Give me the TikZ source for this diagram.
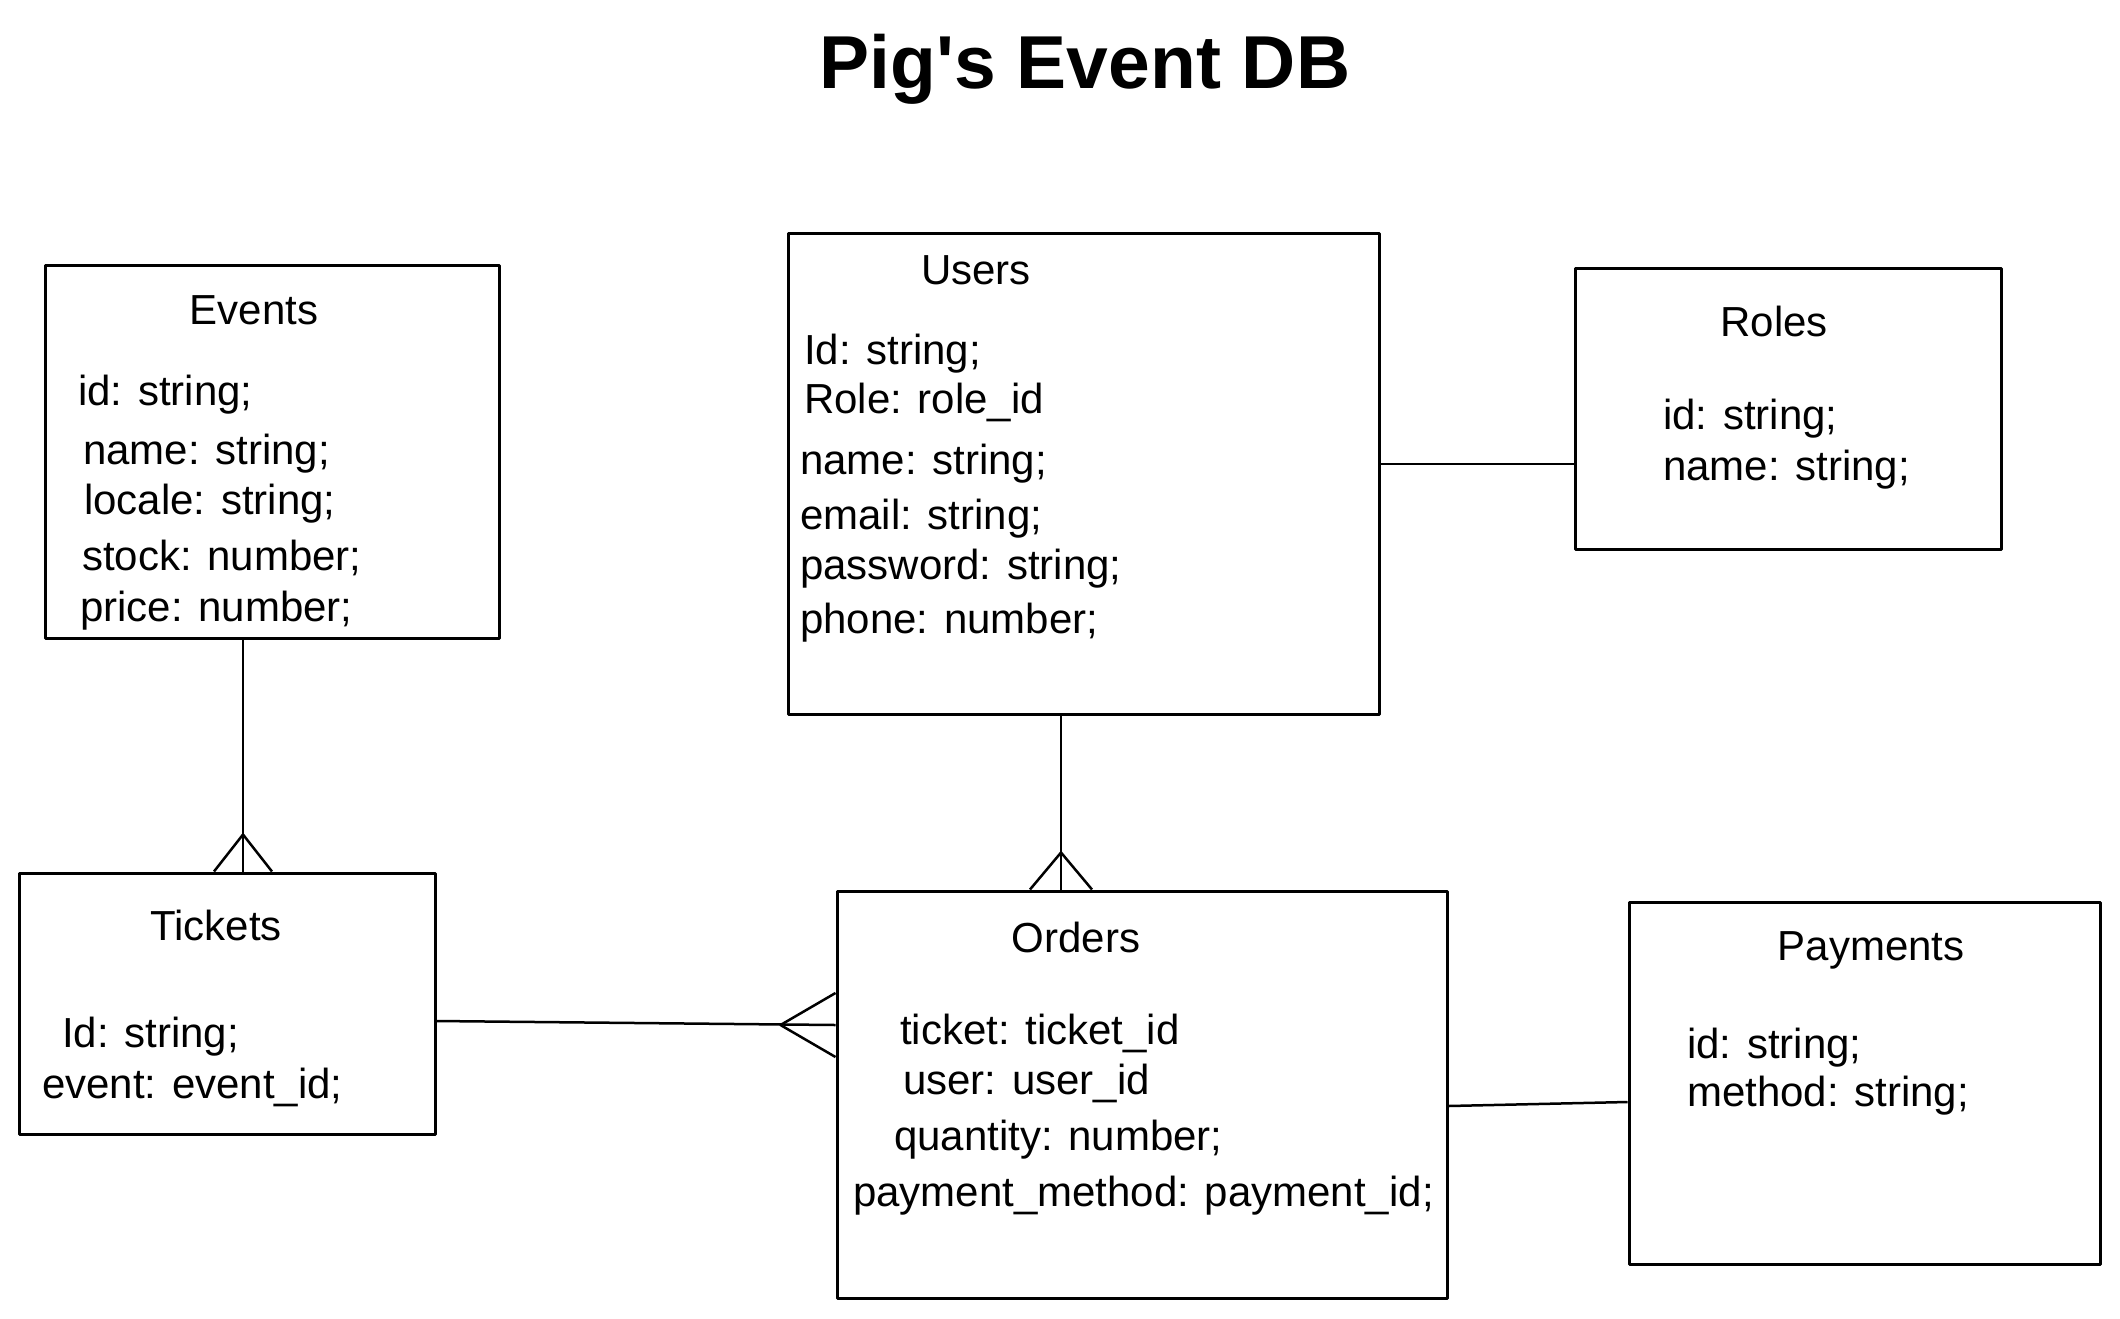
\documentclass[tikz,border=0pt]{standalone}
\usepackage{fontspec}
\setmainfont{Liberation Sans}
\usetikzlibrary{calc}
\begin{document}
\begin{tikzpicture}[x=1pt,y=-1pt,
  entity/.style={draw=black,line width=3pt,line join=round,inner sep=0pt},
  fieldtxt/.style={anchor=mid west,inner sep=0pt,yshift=-12pt,font=\fontsize{42}{50}\selectfont},
  headtxt/.style={anchor=mid,inner sep=0pt,yshift=-12pt,font=\fontsize{42}{50}\selectfont},
  link/.style={draw=black,line width=2.5pt},
  crow/.style={draw=black,line width=2.5pt,line join=round}]
\useasboundingbox[fill=white] (0,0) rectangle (2120,1318);

% title
\node[inner sep=0pt,font=\fontsize{75}{90}\selectfont\bfseries] (title) at (1085,69) {Pig\textquotesingle s Event DB};

% entity boxes
\node[entity,minimum width=454pt,minimum height=373pt] (events) at (272,451.5) {};
\node[entity,minimum width=591pt,minimum height=481pt] (users) at (1083.5,473.5) {};
\node[entity,minimum width=426pt,minimum height=281pt] (roles) at (1788,408.5) {};
\node[entity,minimum width=416pt,minimum height=261pt] (tickets) at (227,1003.5) {};
\node[entity,minimum width=610pt,minimum height=407pt] (orders) at (1142,1094.5) {};
\node[entity,minimum width=471pt,minimum height=362pt] (payments) at (1864.5,1083) {};

% Events
\node[headtxt] (evh) at (254,310) {Events};
\node[fieldtxt] (ev1) at (78,391) {id: string;};
\node[fieldtxt] (ev2) at (83,450) {name: string;};
\node[fieldtxt] (ev3) at (84,500) {locale: string;};
\node[fieldtxt] (ev4) at (82,556) {stock: number;};
\node[fieldtxt] (ev5) at (80,607) {price: number;};

% Users
\node[headtxt] (ush) at (976,270) {Users};
\node[fieldtxt] (us1) at (804,350) {Id: string;};
\node[fieldtxt] (us2) at (804,399) {Role: role\_id};
\node[fieldtxt] (us3) at (800,460) {name: string;};
\node[fieldtxt] (us4) at (800,515) {email: string;};
\node[fieldtxt] (us5) at (800,565) {password: string;};
\node[fieldtxt] (us6) at (800,619) {phone: number;};

% Roles
\node[headtxt] (roh) at (1774,322) {Roles};
\node[fieldtxt] (ro1) at (1663,415) {id: string;};
\node[fieldtxt] (ro2) at (1663,466) {name: string;};

% Tickets
\node[headtxt] (tih) at (216,926) {Tickets};
\node[fieldtxt] (ti1) at (62,1033) {Id: string;};
\node[fieldtxt] (ti2) at (42,1084) {event: event\_id;};

% Orders
\node[headtxt] (orh) at (1076,938) {Orders};
\node[fieldtxt] (or1) at (900,1030) {ticket: ticket\_id};
\node[fieldtxt] (or2) at (903,1080) {user: user\_id};
\node[fieldtxt] (or3) at (894,1136) {quantity: number;};
\node[fieldtxt] (or4) at (853,1192) {payment\_method: payment\_id;};

% Payments
\node[headtxt] (pah) at (1871,946) {Payments};
\node[fieldtxt] (pa1) at (1687,1044) {id: string;};
\node[fieldtxt] (pa2) at (1687,1092) {method: string;};

% connection points
\coordinate (evb) at ([xshift=-29pt]events.south);
\coordinate (tit) at ([xshift=16pt]tickets.north);
\coordinate (usb) at ([xshift=-22.5pt]users.south);
\coordinate (ort) at ([xshift=-81pt]orders.north);
\coordinate (tir) at ([yshift=-17.5pt]tickets.east);
\coordinate (orl) at ([yshift=69.5pt]orders.west);
\coordinate (usr) at ([yshift=9.5pt]users.east);
\coordinate (rol) at ([yshift=-55.5pt]roles.west);
\coordinate (orr) at ([yshift=-11.5pt]orders.east);
\coordinate (pal) at ([yshift=-19pt]payments.west);

% Events -< Tickets
\draw[link] (evb) -- (evb |- tit);
\draw[crow] ([xshift=-29pt]tit) -- ([yshift=37pt]tit) -- ([xshift=29pt]tit);

% Users -< Orders
\draw[link] (usb) -- (usb |- ort);
\draw[crow] ([xshift=-31pt]ort) -- ([yshift=37pt]ort) -- ([xshift=31pt]ort);

% Tickets >- Orders
\draw[link] (tir) -- (orl);
\draw[crow] ([yshift=32pt]orl) -- ([xshift=-55pt]orl) -- ([yshift=-32pt]orl);

% Users - Roles
\draw[link] (usr) -- (rol);

% Orders - Payments
\draw[link] (orr) -- (pal);
\end{tikzpicture}
\end{document}
